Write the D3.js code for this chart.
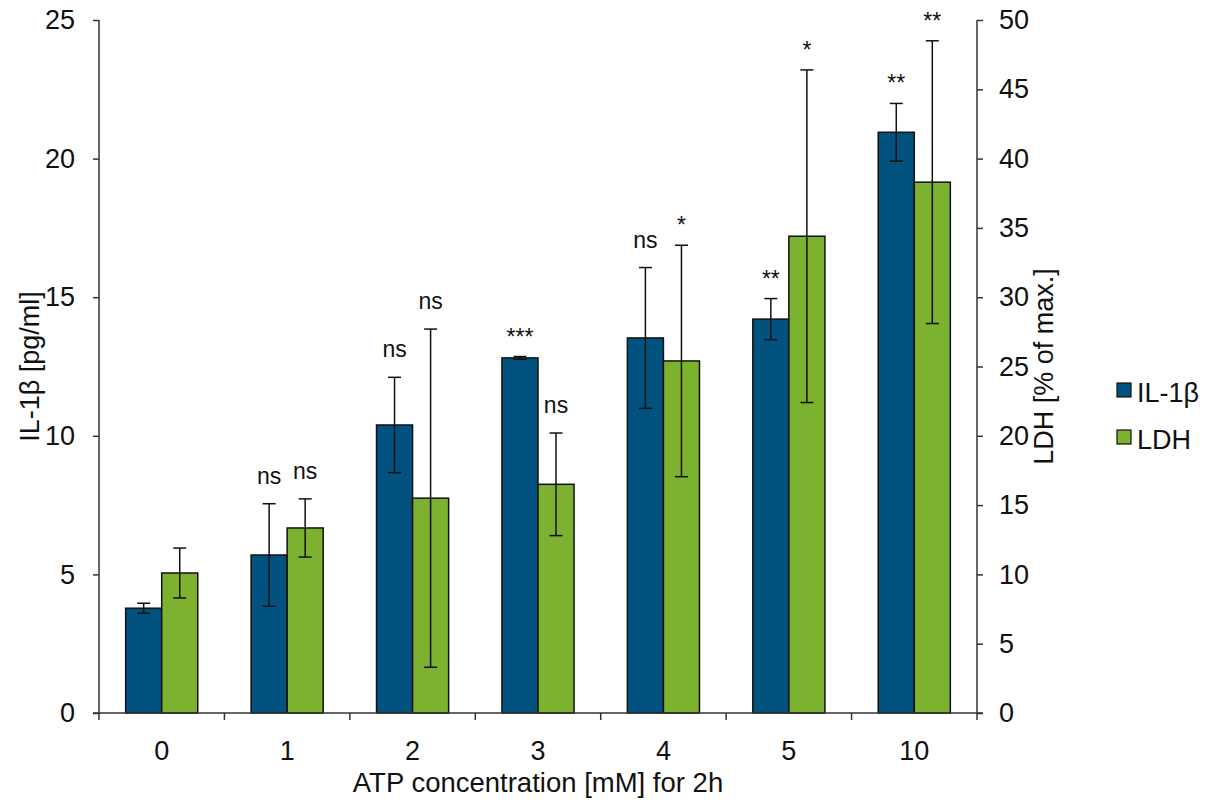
<!DOCTYPE html>
<html>
<head>
<meta charset="utf-8">
<script src="https://cdn.jsdelivr.net/npm/d3@7"></script>
<style>
  body { margin: 0; background: #fff; }
  text { font-family: "Liberation Sans", Arial, Helvetica, sans-serif; fill: #111; }
</style>
</head>
<body>
<script>
// chart data
const categories = ['0', '1', '2', '3', '4', '5', '10'];
const il1bMean = [3.78, 5.70, 10.39, 12.81, 13.53, 14.21, 20.95];
const il1bErr  = [0.18, 1.85, 1.72, 0.05, 2.54, 0.74, 1.04];
const ldhMean  = [10.1, 13.35, 15.5, 16.5, 25.4, 34.4, 38.3];
const ldhErr   = [1.8, 2.1, 12.2, 3.7, 8.35, 12.0, 10.2];
const il1bSig  = ['', 'ns', 'ns', '***', 'ns', '**', '**'];
const ldhSig   = ['', 'ns', 'ns', 'ns', '*', '*', '**'];
const leftTicks = [0, 5, 10, 15, 20, 25];
const rightTicks = [0, 5, 10, 15, 20, 25, 30, 35, 40, 45, 50];

const width = 1207, height = 805;
const mLeft = 99, mRight = 977, mTop = 20, mBottom = 713;

const svg = d3.select('body').append('svg')
  .attr('width', width)
  .attr('height', height);

const x0 = d3.scaleBand().domain(categories).range([mLeft, mRight]).padding(0);
const x1 = d3.scaleBand().domain(['il', 'ldh']).range([0, x0.bandwidth()])
  .paddingInner(0).paddingOuter(0.74);
const yL = d3.scaleLinear().domain([0, 25]).range([mBottom, mTop]);
const yR = d3.scaleLinear().domain([0, 50]).range([mBottom, mTop]);

const series = [
  { key: 'il', label: 'IL-1β', mean: il1bMean, err: il1bErr, sig: il1bSig, y: yL, color: '#02527f' },
  { key: 'ldh', label: 'LDH', mean: ldhMean, err: ldhErr, sig: ldhSig, y: yR, color: '#7cb22f' }
];

// bars
series.forEach(s => {
  const g = svg.append('g');
  categories.forEach((c, i) => {
    g.append('rect')
      .attr('x', x0(c) + x1(s.key)).attr('y', s.y(s.mean[i]))
      .attr('width', x1.bandwidth()).attr('height', mBottom - s.y(s.mean[i]))
      .attr('fill', s.color).attr('stroke', '#111').attr('stroke-width', 1.5);
  });
});

// error bars and significance labels
series.forEach(s => {
  const g = svg.append('g');
  categories.forEach((c, i) => {
    const cx = x0(c) + x1(s.key) + x1.bandwidth() / 2;
    const hi = s.y(s.mean[i] + s.err[i]);
    const lo = s.y(s.mean[i] - s.err[i]);
    g.append('line').attr('x1', cx).attr('x2', cx).attr('y1', hi).attr('y2', lo)
      .attr('stroke', '#111').attr('stroke-width', 1.5);
    [hi, lo].forEach(yy => g.append('line')
      .attr('x1', cx - 6.5).attr('x2', cx + 6.5).attr('y1', yy).attr('y2', yy)
      .attr('stroke', '#111').attr('stroke-width', 1.5));
    if (s.sig[i]) {
      const star = s.sig[i].startsWith('*');
      g.append('text')
        .attr('x', cx).attr('y', hi - (star ? 12 : 20))
        .attr('text-anchor', 'middle')
        .attr('font-size', 23)
        .text(s.sig[i]);
    }
  });
});

// axes
const axisColor = '#333';
const leftAxis = svg.append('g').attr('transform', `translate(${mLeft},0)`)
  .call(d3.axisLeft(yL).tickValues(leftTicks).tickSize(6).tickPadding(18));
const rightAxis = svg.append('g').attr('transform', `translate(${mRight},0)`)
  .call(d3.axisRight(yR).tickValues(rightTicks).tickSize(6).tickPadding(16));
const bottomAxis = svg.append('g').attr('transform', `translate(0,${mBottom})`)
  .call(d3.axisBottom(x0).tickSize(0).tickPadding(28));

[leftAxis, rightAxis, bottomAxis].forEach(a => {
  a.select('.domain').remove();
  a.selectAll('line').attr('stroke', axisColor).attr('stroke-width', 1.5);
  a.selectAll('text').attr('font-size', 27).attr('fill', '#111')
    .style('font-family', '"Liberation Sans", Arial, sans-serif');
});

svg.append('line').attr('x1', mLeft).attr('x2', mLeft).attr('y1', mTop).attr('y2', mBottom)
  .attr('stroke', axisColor).attr('stroke-width', 1.5);
svg.append('line').attr('x1', mRight).attr('x2', mRight).attr('y1', mTop).attr('y2', mBottom)
  .attr('stroke', axisColor).attr('stroke-width', 1.5);
svg.append('line').attr('x1', mLeft - 6).attr('x2', mRight + 6).attr('y1', mBottom).attr('y2', mBottom)
  .attr('stroke', axisColor).attr('stroke-width', 1.5);
// category separator ticks on the x axis
const bounds = categories.map(c => x0(c)).concat([mRight]);
svg.append('g').selectAll('line').data(bounds).join('line')
  .attr('x1', d => d).attr('x2', d => d).attr('y1', mBottom).attr('y2', mBottom + 7)
  .attr('stroke', axisColor).attr('stroke-width', 1.5);

// axis titles
svg.append('text').attr('transform', `translate(39,${(mTop + mBottom) / 2}) rotate(-90)`)
  .attr('text-anchor', 'middle').attr('font-size', 27).text('IL-1β [pg/ml]');
svg.append('text').attr('transform', `translate(1053,${(mTop + mBottom) / 2}) rotate(-90)`)
  .attr('text-anchor', 'middle').attr('font-size', 27).text('LDH [% of max.]');
svg.append('text').attr('x', (mLeft + mRight) / 2).attr('y', 792)
  .attr('text-anchor', 'middle').attr('font-size', 27.5).text('ATP concentration [mM] for 2h');

// legend
const legend = svg.append('g').attr('transform', 'translate(1117,383)');
series.forEach((s, i) => {
  legend.append('rect').attr('x', 0).attr('y', i * 47).attr('width', 14).attr('height', 14)
    .attr('fill', s.color).attr('stroke', '#111').attr('stroke-width', 1.2);
  legend.append('text').attr('x', 20).attr('y', i * 47 + 19).attr('font-size', 27)
    .text(s.label);
});
</script>
</body>
</html>
